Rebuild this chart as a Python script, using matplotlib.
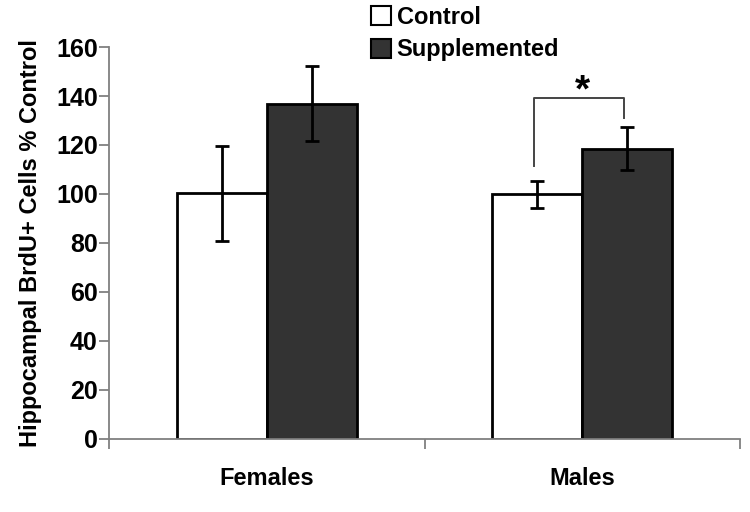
import numpy as np
import matplotlib.pyplot as plt
from matplotlib.patches import Patch

plt.rcParams['font.family'] = ['Liberation Sans', 'DejaVu Sans']
plt.rcParams['font.weight'] = 'bold'

# Data
groups = ['Females', 'Males']
control = [100.3, 99.8]
control_err = [19.3, 5.6]
supplemented = [136.8, 118.5]
supplemented_err = [15.3, 8.8]
series_names = ['Control', 'Supplemented']

fig = plt.figure(figsize=(7.5, 5.12), dpi=100)
ax = fig.add_axes([0.1453, 0.1426, 0.8414, 0.7656])

x = np.arange(len(groups)) + 0.5
w = 1 / 3.5
err_kw = dict(ecolor='black', elinewidth=2, capsize=5, capthick=2)
ax.bar(x - w / 2, control, w, yerr=control_err, color='white',
       edgecolor='black', linewidth=2, error_kw=err_kw, zorder=2)
ax.bar(x + w / 2, supplemented, w, yerr=supplemented_err, color='#333333',
       edgecolor='black', linewidth=2, error_kw=err_kw, zorder=2)

# significance bracket for males
xl, xr = x[1] - w / 2 - 0.01, x[1] + w / 2 - 0.01
ax.plot([xl, xl, xr, xr], [111.5, 139.2, 139.2, 131], color='#444444', lw=1.4)
ax.text(x[1], 134.5, '*', ha='center', va='bottom', fontsize=28, fontweight='bold')

ax.set_xlim(0, 2)
ax.set_ylim(0, 160)
ax.set_yticks(np.arange(0, 161, 20))
ax.set_xticks([0, 1, 2], labels=['', '', ''])
ax.set_xticks(x, labels=groups, minor=True)
ax.tick_params(axis='x', which='minor', length=0, pad=20, labelsize=17)
ax.tick_params(axis='x', which='major', length=7, color='#808080', width=1.3)
ax.tick_params(axis='y', length=7, color='#808080', width=1.3, labelsize=18, pad=1)

for s in ['top', 'right']:
    ax.spines[s].set_visible(False)
for s in ['left', 'bottom']:
    ax.spines[s].set_color('#808080')
    ax.spines[s].set_linewidth(1.3)

ax.set_ylabel('Hippocampal BrdU+ Cells % Control', fontsize=17, fontweight='bold', labelpad=10)

handles = [Patch(facecolor='white', edgecolor='black', linewidth=1.5),
           Patch(facecolor='#333333', edgecolor='black', linewidth=1.5)]
fig.legend(handles, series_names, loc='upper left', bbox_to_anchor=(0.466, 1.03),
           frameon=False, fontsize=17, handlelength=0.85, handleheight=0.85,
           handletextpad=0.25, labelspacing=0.4)

fig.savefig('out.png', dpi=100)
